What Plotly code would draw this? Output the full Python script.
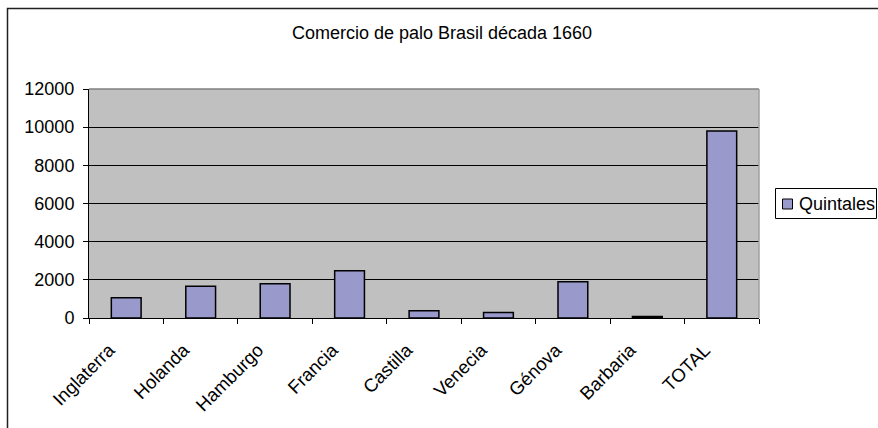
import plotly.graph_objects as go

categories = ["Inglaterra", "Holanda", "Hamburgo", "Francia", "Castilla",
              "Venecia", "Génova", "Barbaria", "TOTAL"]
quintales = [1060, 1660, 1800, 2480, 380, 290, 1900, 80, 9800]
y_ticks = [0, 2000, 4000, 6000, 8000, 10000, 12000]
y_tick_labels = [str(v) for v in y_ticks]
series_name = "Quintales"

W, H = 878, 428
L, R, T, B = 89, 119, 89, 110
pw, ph = W - L - R, H - T - B

FONT = "Liberation Sans, Arial, sans-serif"
BAR_COLOR = "#9999CC"

fig = go.Figure()
fig.add_trace(go.Bar(
    x=categories, y=quintales, name=series_name, showlegend=False,
    marker=dict(color=BAR_COLOR, line=dict(color="black", width=1.5)),
))

def px_x(v):
    return (v - L) / pw

def px_y(v):
    return (H - B - v) / ph

fig.update_layout(
    width=W, height=H,
    margin=dict(l=L, r=R, t=T, b=B, autoexpand=False),
    paper_bgcolor="white",
    plot_bgcolor="#C0C0C0",
    font=dict(family=FONT, size=18, color="black"),
    bargap=0.6,
    title=dict(text="Comercio de palo Brasil década 1660", x=442 / W, xanchor="center",
               xref="container", y=1 - 33 / H, yanchor="middle", yref="container",
               font=dict(family=FONT, size=18, color="black")),
    showlegend=False,
    xaxis=dict(type="category", tickson="boundaries", ticks="outside", ticklen=5,
               tickcolor="black", showline=True, linecolor="black", linewidth=1,
               tickangle=-45, showgrid=False, ticklabelshift=-17, ticklabelstandoff=13,
               tickfont=dict(family=FONT, size=18.5)),
    yaxis=dict(range=[0, 12000], tickvals=y_ticks, ticktext=y_tick_labels,
               ticks="outside", ticklen=5, ticklabelstandoff=5,
               tickcolor="black", showline=True, linecolor="black", linewidth=1,
               showgrid=True, gridcolor="black", gridwidth=1, zeroline=False,
               tickfont=dict(family=FONT, size=18)),
    shapes=[
        dict(type="line", xref="paper", yref="paper", x0=0, x1=1, y0=1, y1=1,
             line=dict(color="#808080", width=1.5), layer="above"),
        dict(type="line", xref="paper", yref="paper", x0=1, x1=1, y0=0, y1=1,
             line=dict(color="#A0A0A0", width=1.5), layer="above"),
        # outer chart border
        dict(type="rect", xref="paper", yref="paper",
             x0=px_x(7.5), x1=px_x(890), y0=px_y(440), y1=px_y(8.5),
             line=dict(color="#202020", width=1.5), layer="below"),
        # legend box
        dict(type="rect", xref="paper", yref="paper",
             x0=px_x(775.5), x1=px_x(876.5), y0=px_y(218.5), y1=px_y(188.5),
             line=dict(color="black", width=1), fillcolor="white", layer="above"),
        # legend swatch
        dict(type="rect", xref="paper", yref="paper",
             x0=px_x(782.5), x1=px_x(792.5), y0=px_y(209), y1=px_y(199),
             line=dict(color="black", width=1), fillcolor=BAR_COLOR, layer="above"),
    ],
    annotations=[
        dict(text=series_name, xref="paper", yref="paper", x=px_x(797), y=px_y(204),
             xanchor="left", yanchor="middle", showarrow=False,
             font=dict(family=FONT, size=18, color="black")),
    ],
)

fig.write_html("out.html", config={"displayModeBar": False},
               post_script="document.body.style.margin='0';")
